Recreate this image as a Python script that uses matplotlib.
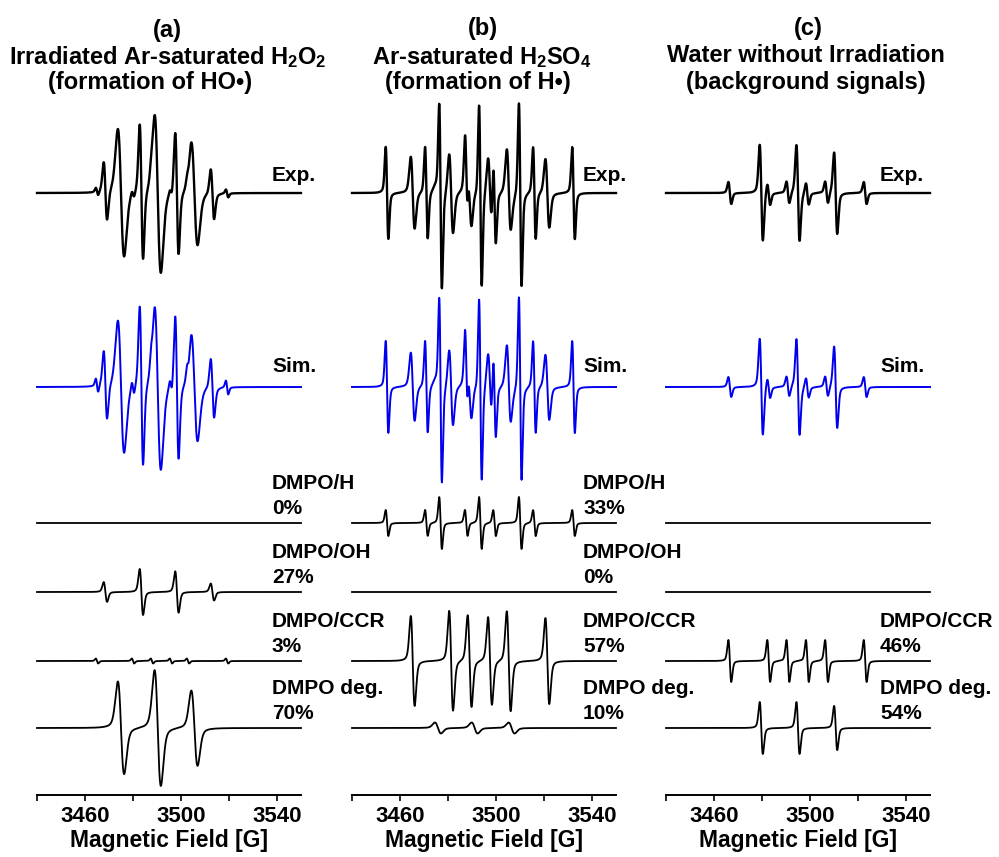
import matplotlib
matplotlib.use("Agg")
import matplotlib.pyplot as plt
import numpy as np

plt.rcParams["font.family"] = ["Liberation Sans", "DejaVu Sans"]
plt.rcParams["font.weight"] = "bold"
plt.rcParams["mathtext.fontset"] = "custom"
plt.rcParams["mathtext.rm"] = "Liberation Sans:bold"
plt.rcParams["mathtext.it"] = "Liberation Sans:bold"
plt.rcParams["mathtext.bf"] = "Liberation Sans:bold"

# ---- data ---------------------------------------------------------------
FIELD_TICKS = [3440, 3460, 3480, 3500, 3520, 3540]
FIELD_LABELS = ["", "3460", "", "3500", "", "3540"]
COMPONENTS = ["DMPO/H", "DMPO/OH", "DMPO/CCR", "DMPO deg."]

TITLES_A = ["(a)", r"Irradiated Ar-saturated H$_2$O$_2$", "(formation of HO•)"]
TITLES_B = ["(b)", r"Ar-saturated H$_2$SO$_4$", "(formation of H•)"]
TITLES_C = ["(c)", "Water without Irradiation", "(background signals)"]

PERCENT_A = [0, 27, 3, 70]
PERCENT_B = [33, 0, 57, 10]
PERCENT_C = [0, 0, 46, 54]

# line positions [G], relative intensities, peak-to-peak widths [G]
A_OH_POS = [3468.5, 3483.5, 3498.3, 3513.1]
A_OH_REL = [0.43, 1.0, 0.9, 0.37]
A_OH_W = 1.4
A_CCR_POS = [3465.0, 3480.0, 3487.9, 3495.8, 3502.9, 3519.2]
A_CCR_REL = [1.0, 1.0, 1.0, 1.0, 1.0, 1.0]
A_CCR_W = 1.0
A_DEG_POS = [3475.0, 3490.3, 3505.6]
A_DEG_REL = [0.8, 1.0, 0.65]
A_DEG_W = 2.6

B_H_POS = [3454.6, 3471.0, 3476.9, 3487.6, 3493.5, 3499.4, 3510.1, 3516.0, 3532.3]
B_H_REL = [0.5, 0.5, 1.0, 0.5, 1.0, 0.5, 1.0, 0.5, 0.5]
B_H_W = 1.1
B_CCR_POS = [3465.3, 3481.3, 3489.0, 3497.5, 3505.3, 3521.4]
B_CCR_REL = [0.9, 1.0, 0.92, 0.88, 1.0, 0.86]
B_CCR_W = 1.6
B_DEG_POS = [3475.8, 3491.1, 3506.5]
B_DEG_REL = [1.0, 1.0, 1.0]
B_DEG_W = 2.5

C_CCR_POS = [3466.6, 3482.8, 3490.8, 3498.9, 3506.9, 3523.0]
C_CCR_REL = [1.0, 1.0, 1.0, 1.0, 1.0, 1.0]
C_CCR_W = 1.2
C_DEG_POS = [3479.7, 3495.0, 3510.7]
C_DEG_REL = [1.0, 1.0, 0.85]
C_DEG_W = 1.3

# amplitude (display units) of a rel=1 line: H, OH, CCR, deg
EXP_AMP_A = [0, 68, 4, 80]
SIM_AMP_A = [0, 80, 7, 83]
COMP_AMP_A = [0, 23, 2.5, 58]
EXP_AMP_B = [92, 0, 40, 5]
SIM_AMP_B = [92, 0, 38, 5]
COMP_AMP_B = [26, 0, 50, 5.5]
EXP_AMP_C = [0, 0, 11, 48]
SIM_AMP_C = [0, 0, 10, 48]
COMP_AMP_C = [0, 0, 21, 26]

# ---- layout ---------------------------------------------------------------
W_PX, H_PX = 999, 857
AX_LEFT_PX = [37, 352, 666]
AX_W_PX = 264
AX_BOT_PX, AX_TOP_PX = 795, 95
BASE_EXP, BASE_SIM = 602, 408
BASE_COMP = [272, 203, 134, 67]
LABEL_X_PX = [272, 583, 880]
TITLE_POS = [[(167, 30), (168, 57), (150, 83)],
             [(483, 29), (482, 57), (478, 83)],
             [(808, 29), (806, 55), (806, 82)]]
BLUE = "#0000ee"
ETA = 0.3  # Lorentzian share of the line shape


def dline(x, x0, w):
    # first-derivative pseudo-Voigt line, positive lobe normalised to 1
    g = w * np.sqrt(3) / 2
    u = (x - x0) / g
    lor = -2 * u / (1 + u ** 2) ** 2 / 0.6495
    v = (x - x0) / (w / 2)
    gau = -v * np.exp(-v ** 2 / 2) / 0.6065
    s = ETA * lor + (1 - ETA) * gau
    return s / s.max()


def lines(x, pos, rel, w):
    y = np.zeros_like(x)
    for p, r in zip(pos, rel):
        y += r * dline(x, p, w)
    return y


def main():
    x = np.linspace(3440, 3550, 6000)
    zero = ([], [], 1.0)
    panels = [
        dict(comps=[zero, (A_OH_POS, A_OH_REL, A_OH_W), (A_CCR_POS, A_CCR_REL, A_CCR_W),
                    (A_DEG_POS, A_DEG_REL, A_DEG_W)],
             exp=EXP_AMP_A, sim=SIM_AMP_A, comp=COMP_AMP_A, pct=PERCENT_A, titles=TITLES_A),
        dict(comps=[(B_H_POS, B_H_REL, B_H_W), zero, (B_CCR_POS, B_CCR_REL, B_CCR_W),
                    (B_DEG_POS, B_DEG_REL, B_DEG_W)],
             exp=EXP_AMP_B, sim=SIM_AMP_B, comp=COMP_AMP_B, pct=PERCENT_B, titles=TITLES_B),
        dict(comps=[zero, zero, (C_CCR_POS, C_CCR_REL, C_CCR_W), (C_DEG_POS, C_DEG_REL, C_DEG_W)],
             exp=EXP_AMP_C, sim=SIM_AMP_C, comp=COMP_AMP_C, pct=PERCENT_C, titles=TITLES_C),
    ]

    fig = plt.figure(figsize=(W_PX / 100, H_PX / 100), dpi=100)
    for i, pan in enumerate(panels):
        ax = fig.add_axes([AX_LEFT_PX[i] / W_PX, (H_PX - AX_BOT_PX) / H_PX,
                           AX_W_PX / W_PX, (AX_BOT_PX - AX_TOP_PX) / H_PX])
        ax.set_facecolor("none")
        ax.set_xlim(3440, 3550)
        ax.set_ylim(0, AX_BOT_PX - AX_TOP_PX)
        shapes = [lines(x, *c) for c in pan["comps"]]
        exp = sum(a * s for a, s in zip(pan["exp"], shapes))
        sim = sum(a * s for a, s in zip(pan["sim"], shapes))
        ax.plot(x, BASE_EXP + exp, color="black", lw=1.7, clip_on=False)
        ax.plot(x, BASE_SIM + sim, color=BLUE, lw=1.4, clip_on=False)
        for k, s in enumerate(shapes):
            ax.plot(x, BASE_COMP[k] + pan["comp"][k] * s, color="black", lw=1.3, clip_on=False)

        lx = 3440 + (LABEL_X_PX[i] - AX_LEFT_PX[i]) / AX_W_PX * 110
        kw = dict(fontsize=15, fontweight="bold", ha="left", va="baseline", clip_on=False)
        ax.text(lx, AX_BOT_PX - 181, "Exp.", **kw)
        ax.text(lx, AX_BOT_PX - 372, "Sim.", **kw)
        for k, name in enumerate(COMPONENTS):
            if pan["pct"][k] == 0 and i == 2:
                continue
            ax.text(lx, BASE_COMP[k] + 34, name, **kw)
            ax.text(lx, BASE_COMP[k] + 9, f"{pan['pct'][k]}%", **kw)

        for side in ["left", "right", "top"]:
            ax.spines[side].set_visible(False)
        ax.spines["bottom"].set_linewidth(1.4)
        ax.set_yticks([])
        ax.set_xticks(FIELD_TICKS)
        ax.set_xticklabels(FIELD_LABELS)
        ax.tick_params(axis="x", direction="out", length=4, width=1.2, pad=4, labelsize=16)
        ax.set_xlabel("Magnetic Field [G]", fontsize=16.5, fontweight="bold", labelpad=1)

        for (tx, ty), t in zip(TITLE_POS[i], pan["titles"]):
            fig.text(tx / W_PX, 1 - ty / H_PX, t, fontsize=17, fontweight="bold",
                     ha="center", va="center")

    fig.savefig("out.png", dpi=100)


if __name__ == "__main__":
    main()
